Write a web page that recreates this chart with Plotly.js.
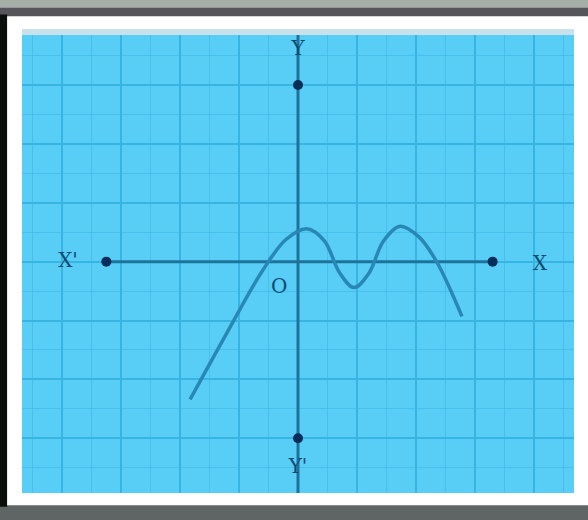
<!DOCTYPE html>
<html>
<head>
<meta charset="utf-8">
<script src="https://cdn.plot.ly/plotly-3.0.1.min.js"></script>
<style>html,body{margin:0;padding:0;background:#fff;}#chart{width:588px;height:520px;}</style>
</head>
<body>
<div id="chart"></div>
<script>
// Curve points (grid units)
const curveX = [-1.83, -1.2, -0.6, -0.2, 0.15, 0.45, 0.7, 0.95, 1.2, 1.45, 1.73, 2.05, 2.35, 2.78];
const curveY = [-2.34, -1.2, -0.15, 0.38, 0.56, 0.35, -0.18, -0.44, -0.2, 0.35, 0.6, 0.42, 0.0, -0.93];
// Axis end points
const xAxisEndsX = [-3.25, 3.3];
const xAxisEndsY = [0, 0];
const yAxisEndsX = [0, 0];
const yAxisEndsY = [3, -3];
const yAxisSpan = [3.9, -3.95];
// Labels
const labelText = ["X'", "X", "Y", "Y'", "O"];
const labelX = [-3.9, 4.1, 0, 0, -0.32];
const labelY = [0, -0.05, 3.6, -3.5, -0.45];

const axisColor = 'rgb(30,115,155)';
const traces = [
  {x: xAxisEndsX, y: xAxisEndsY, mode: 'lines', line: {color: axisColor, width: 3}, hoverinfo: 'skip'},
  {x: [0, 0], y: yAxisSpan, mode: 'lines', line: {color: axisColor, width: 3}, hoverinfo: 'skip'},
  {x: curveX, y: curveY, mode: 'lines', line: {color: 'rgb(40,135,180)', width: 3.5, shape: 'spline', smoothing: 1}, hoverinfo: 'skip'},
  {x: xAxisEndsX.concat(yAxisEndsX), y: xAxisEndsY.concat(yAxisEndsY), mode: 'markers',
   marker: {color: 'rgb(5,45,90)', size: 10}, hoverinfo: 'skip'},
  {x: labelX, y: labelY, mode: 'text', text: labelText,
   textfont: {family: 'DejaVu Serif', size: 20, color: 'rgb(15,75,115)'}, hoverinfo: 'skip'}
];

const layout = {
  width: 588, height: 520,
  margin: {l: 22, r: 14, t: 35, b: 27, pad: 0},
  paper_bgcolor: '#ffffff',
  plot_bgcolor: 'rgb(88,205,245)',
  showlegend: false,
  xaxis: {range: [-4.68, 4.68], dtick: 1, tick0: 0, showticklabels: false, ticks: '',
    zeroline: false, showgrid: true, gridcolor: 'rgb(55,180,225)', gridwidth: 2,
    minor: {dtick: 0.5, showgrid: true, gridcolor: 'rgba(60,185,230,0.6)', gridwidth: 1},
    fixedrange: true, showline: false},
  yaxis: {range: [-3.93, 3.85], dtick: 1, tick0: 0, showticklabels: false, ticks: '',
    zeroline: false, showgrid: true, gridcolor: 'rgb(55,180,225)', gridwidth: 2,
    minor: {dtick: 0.5, showgrid: true, gridcolor: 'rgba(60,185,230,0.6)', gridwidth: 1},
    fixedrange: true, showline: false},
  shapes: [
    {type: 'rect', xref: 'paper', yref: 'paper', x0: -0.05, x1: 1.03, y0: 1.06, y1: 1.08, fillcolor: 'rgb(165,175,165)', line: {width: 0}, layer: 'below'},
    {type: 'rect', xref: 'paper', yref: 'paper', x0: -0.05, x1: 1.03, y0: 1.041, y1: 1.06, fillcolor: 'rgb(85,85,90)', line: {width: 0}, layer: 'below'},
    {type: 'rect', xref: 'paper', yref: 'paper', x0: -0.05, x1: 1.03, y0: -0.06, y1: -0.027, fillcolor: 'rgb(95,100,100)', line: {width: 0}, layer: 'below'},
    {type: 'rect', xref: 'paper', yref: 'paper', x0: -0.045, x1: -0.027, y0: -0.03, y1: 1.045, fillcolor: 'rgb(10,15,10)', line: {width: 0}, layer: 'below'},
    {type: 'rect', xref: 'paper', yref: 'paper', x0: 0, x1: 1, y0: 1, y1: 1.013, fillcolor: 'rgb(200,225,235)', line: {width: 0}, layer: 'below'}
  ]
};

Plotly.newPlot('chart', traces, layout, {displayModeBar: false, staticPlot: true});
</script>
</body>
</html>
